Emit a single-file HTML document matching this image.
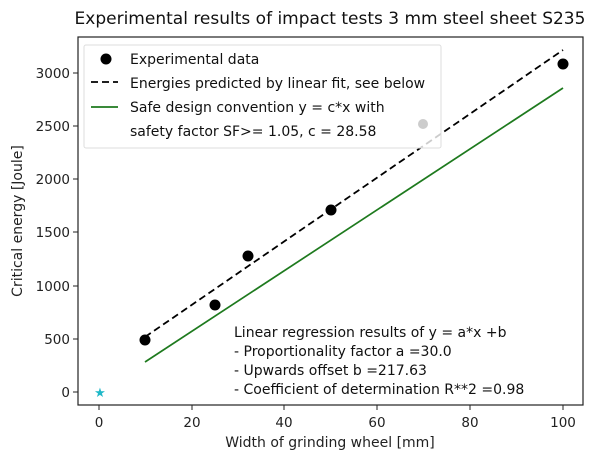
<!DOCTYPE html>
<html><head><style>body{margin:0;background:#fff}svg{font-family:"DejaVu Sans","Liberation Sans",sans-serif}</style></head>
<body>
<svg width="600" height="460" viewBox="0 0 600 460" xmlns="http://www.w3.org/2000/svg">
<rect width="600" height="460" fill="#fff"/>
<text x="330" y="24" font-size="17" text-anchor="middle" fill="#111">Experimental results of impact tests 3 mm steel sheet S235</text>
<g stroke="#222" stroke-width="1">
<line x1="99" y1="405" x2="99" y2="410"/><line x1="192" y1="405" x2="192" y2="410"/><line x1="284" y1="405" x2="284" y2="410"/><line x1="377" y1="405" x2="377" y2="410"/><line x1="470" y1="405" x2="470" y2="410"/><line x1="563" y1="405" x2="563" y2="410"/>
<line x1="73" y1="392" x2="78" y2="392"/><line x1="73" y1="339" x2="78" y2="339"/><line x1="73" y1="286" x2="78" y2="286"/><line x1="73" y1="232" x2="78" y2="232"/><line x1="73" y1="179" x2="78" y2="179"/><line x1="73" y1="126" x2="78" y2="126"/><line x1="73" y1="73" x2="78" y2="73"/>
</g>
<g font-size="13.5" fill="#222" text-anchor="middle">
<text x="99" y="427">0</text><text x="192" y="427">20</text><text x="284" y="427">40</text><text x="377" y="427">60</text><text x="470" y="427">80</text><text x="563" y="427">100</text>
</g>
<g font-size="13.5" fill="#222" text-anchor="end">
<text x="70" y="397">0</text><text x="70" y="344">500</text><text x="70" y="291">1000</text><text x="70" y="237">1500</text><text x="70" y="184">2000</text><text x="70" y="131">2500</text><text x="70" y="78">3000</text>
</g>
<text x="330" y="447" font-size="14" text-anchor="middle" fill="#222">Width of grinding wheel [mm]</text>
<text transform="translate(22,221) rotate(-90)" font-size="14" text-anchor="middle" fill="#222">Critical energy [Joule]</text>
<line x1="145" y1="337" x2="563" y2="50" stroke="#000" stroke-width="1.8" stroke-dasharray="7,4"/>
<line x1="145" y1="362" x2="563" y2="88" stroke="#1e7a1e" stroke-width="1.7"/>
<g fill="#000">
<circle cx="145" cy="340" r="5.5"/><circle cx="215" cy="305" r="5.5"/><circle cx="248" cy="256" r="5.5"/><circle cx="331" cy="210" r="5.5"/><circle cx="563" cy="64" r="5.5"/>
</g>
<rect x="84" y="45" width="357" height="103" fill="#fff" fill-opacity="0.8" stroke="#ddd" rx="2"/>
<circle cx="423" cy="124" r="5" fill="#ccc"/>
<circle cx="106" cy="59" r="5.5" fill="#000"/>
<line x1="91" y1="82" x2="118" y2="82" stroke="#000" stroke-width="1.8" stroke-dasharray="7,4"/>
<line x1="91" y1="107" x2="118" y2="107" stroke="#1e7a1e" stroke-width="1.7"/>
<g font-size="14" fill="#111">
<text x="130" y="64">Experimental data</text>
<text x="130" y="88">Energies predicted by linear fit, see below</text>
<text x="130" y="112">Safe design convention y = c*x with</text>
<text x="130" y="136">safety factor SF&gt;= 1.05, c = 28.58</text>
</g>
<g font-size="14" fill="#111">
<text x="234" y="337">Linear regression results of y = a*x +b</text>
<text x="234" y="356">- Proportionality factor a =30.0</text>
<text x="234" y="375">- Upwards offset b =217.63</text>
<text x="234" y="394">- Coefficient of determination R**2 =0.98</text>
</g>
<text x="100" y="397" font-size="13" fill="#20b8c8" text-anchor="middle">★</text>
<rect x="78" y="37" width="505" height="368" fill="none" stroke="#222" stroke-width="1.2"/>
</svg>
</body></html>
